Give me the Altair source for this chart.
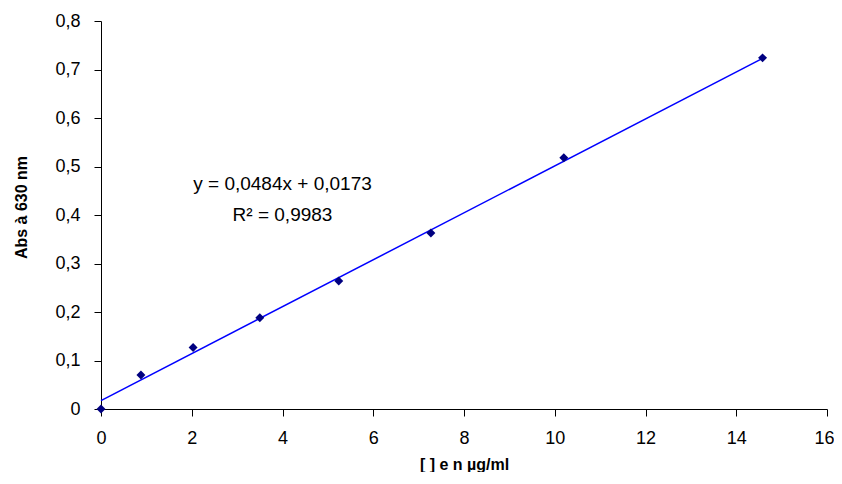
import altair as alt
import pandas as pd

# measured points
conc = [0.0, 0.88, 2.03, 3.50, 5.24, 7.27, 10.20, 14.58]
absorb = [0.0, 0.070, 0.127, 0.188, 0.264, 0.363, 0.518, 0.724]

# trend line (Excel linear fit)
slope = 0.0484
intercept = 0.0173
trend_x = [0.0, 14.58]

# annotation
ann_text = ["y = 0,0484x + 0,0173", "R² = 0,9983"]
ann_x = [4.0, 4.0]
ann_y = [0.464, 0.400]

x_ticks = [0, 2, 4, 6, 8, 10, 12, 14, 16]
y_ticks = [0, 0.1, 0.2, 0.3, 0.4, 0.5, 0.6, 0.7, 0.8]

pts = pd.DataFrame({"x": conc, "y": absorb})
trend = pd.DataFrame({"x": trend_x, "y": [slope * v + intercept for v in trend_x]})
ann = pd.DataFrame({"x": ann_x, "y": ann_y, "t": ann_text})

FONT = "Liberation Sans"

xs = alt.Scale(domain=[0, 16], nice=False, zero=False)
ys = alt.Scale(domain=[0, 0.8], nice=False, zero=False)

x_axis = alt.Axis(
    values=x_ticks, title="[ ] e n µg/ml", grid=False,
    labelFont=FONT, labelFontSize=18, labelColor="black",
    labelPadding=13, tickSize=7, tickColor="black", domainColor="black",
    labelOffset={"condition": {"test": "datum.value == 16", "value": -3}, "value": 0},
    titleFont=FONT, titleFontSize=16, titleFontWeight="bold", titleColor="black",
    titlePadding=9, labelFlush=False,
)
y_axis = alt.Axis(
    values=y_ticks, title="Abs à 630 nm", grid=False,
    labelExpr="replace(format(datum.value, '.1~f'), '.', ',')",
    labelFont=FONT, labelFontSize=18, labelColor="black",
    labelPadding=14, tickSize=7, tickColor="black", domainColor="black",
    titleFont=FONT, titleFontSize=16, titleFontWeight="bold", titleColor="black",
    titleX=-80, titleY=186, titleBaseline="middle", titleAngle=-90, titleAlign="center",
)

line = alt.Chart(trend).mark_line(color="#0000FF", strokeWidth=1.5).encode(
    x=alt.X("x:Q", scale=xs, axis=x_axis),
    y=alt.Y("y:Q", scale=ys, axis=y_axis),
)
points = alt.Chart(pts).mark_point(
    shape="diamond", filled=True, color="#000080", size=80, opacity=1
).encode(x=alt.X("x:Q", scale=xs), y=alt.Y("y:Q", scale=ys))
text = alt.Chart(ann).mark_text(
    font=FONT, fontSize=19, color="black", align="center", baseline="middle"
).encode(x=alt.X("x:Q", scale=xs), y=alt.Y("y:Q", scale=ys), text="t:N")

chart = (line + points + text).properties(
    width=726, height=388,
    background="white",
    autosize=alt.AutoSizeParams(type="none"),
    padding={"left": 93, "top": 13, "right": 7, "bottom": 63},
).configure_view(stroke=None)

chart.save("out.html", embed_options={"renderer": "svg", "actions": False})
